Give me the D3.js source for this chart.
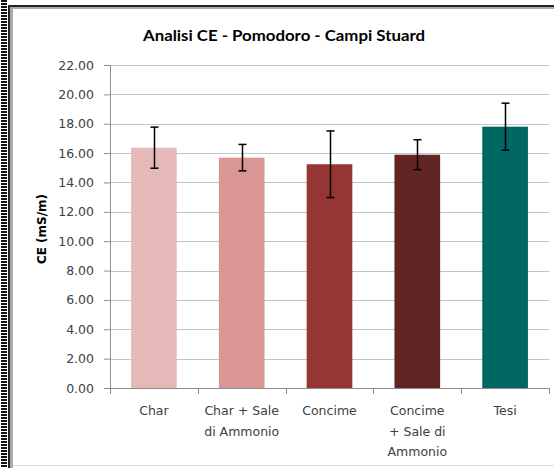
<!DOCTYPE html>
<html>
<head>
<meta charset="utf-8">
<script src="https://cdn.jsdelivr.net/npm/d3@7"></script>
<style>
  body { margin: 0; background: #fff; }
  text { font-family: "DejaVu Sans", sans-serif; fill: #404040; }
</style>
</head>
<body>
<div id="chart"></div>
<script>
// data
var categories = ["Char", "Char + Sale di Ammonio", "Concime", "Concime + Sale di Ammonio", "Tesi"];
var catLines = [["Char"], ["Char + Sale", "di Ammonio"], ["Concime"], ["Concime", "+  Sale di", "Ammonio"], ["Tesi"]];
var means = [16.37, 15.69, 15.24, 15.89, 17.80];
var errors = [1.40, 0.90, 2.27, 1.02, 1.60];
var yTicks = [0, 2, 4, 6, 8, 10, 12, 14, 16, 18, 20, 22];
var colors = ["#e6b8b7", "#da9694", "#963634", "#632523", "#006763"];

var W = 554, H = 468;
var margin = {top: 65, right: 5, bottom: 80, left: 110};
var width = W - margin.left - margin.right,
    height = H - margin.top - margin.bottom;

var svg = d3.select("#chart").append("svg")
  .attr("width", W)
  .attr("height", H);

// frame (dashed strip on the left, double line left/top, thin line bottom)
for (var yy = 0; yy < H; yy += 3) {
  svg.append("rect").attr("x", 1).attr("y", yy).attr("width", 6).attr("height", 2).attr("fill", "#111");
}
svg.append("rect").attr("x", 8).attr("y", 5).attr("width", 2).attr("height", H - 5).attr("fill", "#222");
svg.append("rect").attr("x", 10).attr("y", 7).attr("width", 3).attr("height", H - 7).attr("fill", "#aaa");
svg.append("rect").attr("x", 8).attr("y", 5).attr("width", W - 8).attr("height", 2).attr("fill", "#222");
svg.append("rect").attr("x", 10).attr("y", 7).attr("width", W - 10).attr("height", 2).attr("fill", "#aaa");
svg.append("rect").attr("x", 13).attr("y", 465).attr("width", W - 13).attr("height", 1).attr("fill", "#ddd");

// title
svg.append("text")
  .attr("x", 284)
  .attr("y", 41)
  .attr("text-anchor", "middle")
  .attr("textLength", 282)
  .attr("lengthAdjust", "spacingAndGlyphs")
  .style("font-family", "Lato, sans-serif")
  .style("font-size", "16px")
  .style("font-weight", "bold")
  .style("fill", "#000")
  .text("Analisi CE - Pomodoro - Campi Stuard");

var g = svg.append("g")
  .attr("transform", "translate(" + margin.left + "," + margin.top + ")");

var x = d3.scaleBand()
  .domain(categories)
  .range([0, width])
  .paddingInner(0.48)
  .paddingOuter(0.24);

var y = d3.scaleLinear()
  .domain([0, 22])
  .range([height, 0]);

// gridlines
g.append("g")
  .selectAll("line")
  .data(yTicks.slice(1))
  .enter()
  .append("line")
    .attr("x1", 0)
    .attr("x2", width)
    .attr("y1", function(d) { return Math.round(y(d)) + 0.5; })
    .attr("y2", function(d) { return Math.round(y(d)) + 0.5; })
    .attr("stroke", "#c4c4c4");

// y axis
var yAxis = g.append("g")
  .call(d3.axisLeft(y).tickValues(yTicks).tickSize(6).tickPadding(10)
    .tickFormat(d3.format(".2f")));
yAxis.selectAll("text").style("font-size", "12.5px").style("fill", "#404040")
  .style("font-family", "'DejaVu Sans', sans-serif");
yAxis.selectAll("line, path").attr("stroke", "#8c8c8c");

// x axis (ticks between categories)
var xAxisG = g.append("g").attr("transform", "translate(0," + height + ")");
xAxisG.append("line").attr("x1", 0).attr("x2", width).attr("y1", 0.5).attr("y2", 0.5).attr("stroke", "#8c8c8c");
xAxisG.selectAll("tick")
  .data(d3.range(categories.length + 1))
  .enter()
  .append("line")
    .attr("x1", function(i) { return Math.round(i * width / categories.length) + 0.5; })
    .attr("x2", function(i) { return Math.round(i * width / categories.length) + 0.5; })
    .attr("y1", 0)
    .attr("y2", 6)
    .attr("stroke", "#8c8c8c");

// category labels
categories.forEach(function(c, i) {
  var t = xAxisG.append("text")
    .attr("text-anchor", "middle")
    .attr("x", x(c) + x.bandwidth() / 2)
    .attr("y", 27)
    .style("font-size", "12.5px");
  catLines[i].forEach(function(l, j) {
    t.append("tspan")
      .attr("x", x(c) + x.bandwidth() / 2)
      .attr("dy", j === 0 ? 0 : 20.5)
      .text(l);
  });
});

// y label
svg.append("text")
  .attr("transform", "translate(46,229) rotate(-90)")
  .attr("text-anchor", "middle")
  .style("font-size", "12px")
  .style("font-weight", "bold")
  .style("fill", "#000")
  .text("CE (mS/m)");

// bars
g.selectAll(".bar")
  .data(means)
  .enter()
  .append("rect")
    .attr("class", "bar")
    .attr("x", function(d, i) { return x(categories[i]); })
    .attr("y", function(d) { return y(d); })
    .attr("width", x.bandwidth())
    .attr("height", function(d) { return height - y(d); })
    .attr("fill", function(d, i) { return colors[i]; });

// error bars
var eb = g.selectAll(".err")
  .data(means)
  .enter()
  .append("g")
    .attr("class", "err")
    .attr("transform", function(d, i) { return "translate(" + (Math.round(x(categories[i]) + x.bandwidth() / 2) + 0.5) + ",0)"; });
eb.append("line")
  .attr("y1", function(d, i) { return y(d + errors[i]); })
  .attr("y2", function(d, i) { return y(d - errors[i]); })
  .attr("stroke", "#000").attr("stroke-width", 1.5);
eb.append("line")
  .attr("x1", -4).attr("x2", 4)
  .attr("y1", function(d, i) { return y(d + errors[i]); })
  .attr("y2", function(d, i) { return y(d + errors[i]); })
  .attr("stroke", "#000").attr("stroke-width", 1.5);
eb.append("line")
  .attr("x1", -4).attr("x2", 4)
  .attr("y1", function(d, i) { return y(d - errors[i]); })
  .attr("y2", function(d, i) { return y(d - errors[i]); })
  .attr("stroke", "#000").attr("stroke-width", 1.5);
</script>
</body>
</html>
